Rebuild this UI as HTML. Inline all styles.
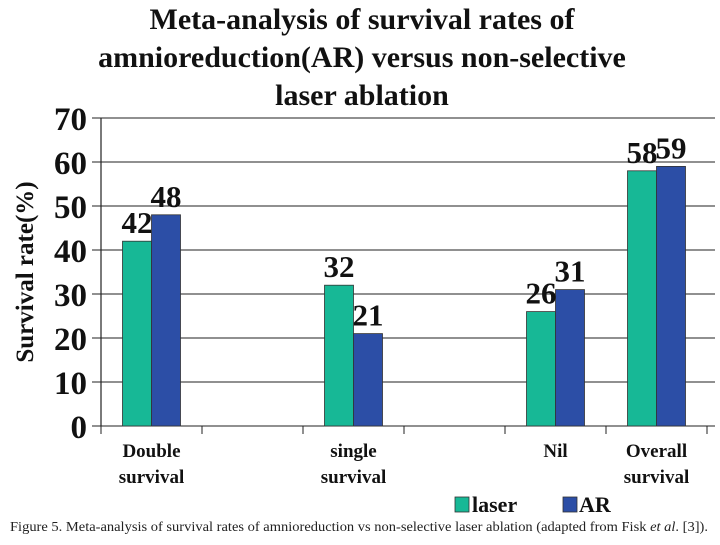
<!DOCTYPE html>
<html><head><meta charset="utf-8"><style>
body{margin:0;background:#fff;}
svg text{font-family:"Liberation Serif",serif;}
</style></head><body>
<svg width="720" height="540" viewBox="0 0 720 540">
<g font-weight="bold" font-size="30" text-anchor="middle" fill="#111">
<text x="362" y="29">Meta-analysis of survival rates of</text>
<text x="362" y="67">amnioreduction(AR) versus non-selective</text>
<text x="362" y="105">laser ablation</text>
</g>
<g id="grid"></g><g id="bars"></g><g id="labels"></g>
<text transform="translate(33,272) rotate(-90)" text-anchor="middle" font-weight="bold" font-size="25" fill="#111">Survival rate(%)</text>
<g>
<rect x="455" y="497" width="14" height="15" fill="#17b896" stroke="#333" stroke-width="0.8"/>
<text x="472" y="512" font-weight="bold" font-size="22" fill="#111">laser</text>
<rect x="563" y="497" width="14" height="15" fill="#2c4ea6" stroke="#333" stroke-width="0.8"/>
<text x="579" y="512" font-weight="bold" font-size="22" fill="#111">AR</text>
</g>
<text x="10" y="531" font-size="13.5" textLength="698" lengthAdjust="spacingAndGlyphs" fill="#222">Figure 5. Meta-analysis of survival rates of amnioreduction vs non-selective laser ablation (adapted from Fisk <tspan font-style="italic">et al</tspan>. [3]).</text>
</svg>
<script>
const categories=["Double|survival","","single|survival","","Nil","Overall|survival"];
const laserValues=[42,null,32,null,26,58];
const arValues=[48,null,21,null,31,59];
const yTicks=[0,10,20,30,40,50,60,70];
const NS="http://www.w3.org/2000/svg";
const x0=101,x1=707,y0=426,yTop=118,yMax=70;
const bw=(x1-x0)/categories.length;
const y=v=>y0-(v/yMax)*(y0-yTop);
function mk(t,a,p){const e=document.createElementNS(NS,t);for(const k in a)e.setAttribute(k,a[k]);p.appendChild(e);return e;}
const g=document.getElementById('grid'),b=document.getElementById('bars'),l=document.getElementById('labels');
yTicks.forEach(t=>{
 const ln=mk('line',{x1:92,x2:x1+8,y1:y(t),y2:y(t),stroke:'#222','stroke-width':1},g);
 
 
 const tx=mk('text',{x:87,y:y(t)+12,'text-anchor':'end','font-weight':'bold','font-size':33,fill:'#111'},g);
 tx.textContent=t;
 
 
});
const ax=mk('line',{x1:x0,x2:x0,y1:yTop,y2:y0,stroke:'#222','stroke-width':1.2},g);


for(let i=0;i<=categories.length;i++){
 const tk=mk('line',{x1:x0+i*bw,x2:x0+i*bw,y1:y0,y2:y0+8,stroke:'#222'},g);
 
 
}
categories.forEach((c,i)=>{
 const cx=x0+bw*(i+0.5);
 if(c){const parts=c.split('|');parts.forEach((p,j)=>{
  const t=mk('text',{x:cx,y:457+j*26,'text-anchor':'middle','font-weight':'bold','font-size':19,fill:'#111'},l);
  t.textContent=p;
  
  
 });}
 [[laserValues[i],'#17b896',-1,'laser'],[arValues[i],'#2c4ea6',0,'ar']].forEach(([v,col,off,nm])=>{
  if(v==null)return;
  const w=29,bx=cx+off*w;
  const r=mk('rect',{x:bx,y:y(v),width:w,height:y0-y(v),fill:col,stroke:'#333','stroke-width':0.8},b);
  
  
  const t=mk('text',{x:bx+w/2,y:y(v)-8,'text-anchor':'middle','font-weight':'bold','font-size':31,fill:'#111'},l);
  t.textContent=v;
  
  
 });
});
</script>
</body></html>
